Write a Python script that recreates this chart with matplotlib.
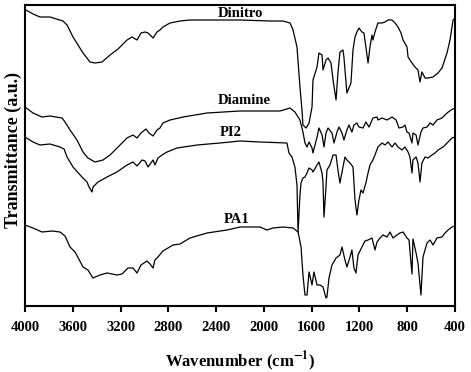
import numpy as np
import matplotlib
matplotlib.use('Agg')
import matplotlib.pyplot as plt

# FTIR spectra, wavenumber (cm-1) vs transmittance (a.u., stacked)
dinitro_wn = [4000, 3933, 3874, 3791, 3682, 3648, 3598, 3514, 3456, 3414, 3355, 3288, 3221, 3146,
              3104, 3062, 3029, 2995, 2970, 2928, 2895, 2870, 2845, 2786, 2702, 2619, 2200, 1949,
              1840, 1781, 1756, 1723, 1698, 1681, 1673, 1647, 1622, 1597, 1589, 1555, 1539, 1513,
              1505, 1480, 1463, 1438, 1421, 1396, 1380, 1363, 1338, 1330, 1305, 1288, 1271, 1254,
              1237, 1221, 1204, 1179, 1162, 1146, 1128, 1112, 1095, 1087, 1070, 1045, 1011, 986,
              961, 927, 902, 877, 852, 835, 802, 793, 760, 735, 710, 693, 677, 651, 626, 584, 542,
              509, 467, 442, 416, 400]
dinitro_t = [296.5, 292, 289, 289, 285, 281, 269, 253, 244, 243, 244, 251, 257, 266,
             269, 266, 273, 274, 273, 268, 274, 276, 279, 283, 285, 286, 286, 285,
             285, 283, 276, 259, 219, 196, 181, 178, 183, 199, 226, 239, 253, 251,
             236, 246, 248, 243, 226, 206, 233, 254, 256, 249, 213, 218, 223, 256,
             269, 274, 278, 274, 273, 259, 243, 259, 271, 266, 274, 283, 283, 284,
             286, 286, 283, 279, 273, 266, 259, 249, 243, 239, 236, 224, 234, 228, 228, 229, 233,
             238, 253, 266, 286, 288]

diamine_wn = [4000, 3933, 3858, 3791, 3690, 3665, 3623, 3565, 3514, 3473, 3414, 3347, 3288, 3221,
              3146, 3096, 3062, 3029, 2987, 2962, 2928, 2895, 2870, 2845, 2786, 2677, 2476, 2200,
              1865, 1781, 1740, 1698, 1673, 1656, 1639, 1622, 1597, 1589, 1555, 1539, 1513, 1497,
              1480, 1463, 1430, 1413, 1388, 1371, 1346, 1330, 1305, 1288, 1263, 1246, 1221, 1204,
              1170, 1146, 1120, 1087, 1053, 1045, 1011, 969, 927, 893, 869, 835, 819, 802, 785,
              760, 752, 726, 710, 685, 668, 634, 609, 584, 551, 509, 467, 433, 400]
diamine_t = [199, 193, 189, 190, 188, 184, 176, 166, 154, 148, 144, 146, 151, 159,
             168, 171, 168, 173, 177, 173, 170, 176, 178, 183, 186, 189, 193, 195,
             195, 198, 194, 186, 174, 163, 159, 164, 158, 153, 169, 178, 171, 159,
             173, 178, 173, 163, 174, 179, 173, 166, 176, 181, 174, 181, 183, 179,
             178, 184, 179, 188, 189, 186, 188, 186, 189, 186, 178, 179, 181, 174, 173,
             163, 173, 171, 161, 174, 178, 179, 183, 181, 186, 188, 193, 196, 198]

pi2_wn = [4000, 3933, 3874, 3791, 3707, 3673, 3648, 3598, 3523, 3481, 3464, 3439, 3431, 3389,
          3313, 3230, 3146, 3096, 3062, 3020, 2995, 2970, 2928, 2912, 2887, 2853, 2811, 2727,
          2560, 2367, 2200, 2033, 1807, 1790, 1765, 1740, 1723, 1714, 1698, 1689, 1673, 1656,
          1639, 1622, 1597, 1589, 1555, 1539, 1513, 1505, 1497, 1480, 1472, 1447, 1421, 1396,
          1380, 1363, 1338, 1321, 1305, 1279, 1254, 1237, 1221, 1204, 1187, 1170, 1146, 1128,
          1112, 1087, 1070, 1045, 1011, 986, 961, 927, 902, 877, 844, 819, 793, 777, 760, 752,
          726, 710, 693, 677, 651, 626, 593, 567, 542, 500, 458, 425, 400]
pi2_t = [169, 164, 161, 162, 159, 157, 149, 139, 129, 124, 119, 114, 119, 124,
         129, 134, 141, 144, 140, 146, 145, 139, 146, 141, 148, 151, 154, 158,
         161, 163, 165, 164, 163, 153, 149, 139, 121, 74, 111, 123, 128, 129,
         133, 138, 136, 134, 141, 144, 133, 123, 89, 119, 136, 141, 151, 151,
         136, 123, 139, 149, 146, 143, 139, 106, 91, 106, 116, 113, 123, 133,
         141, 146, 151, 159, 163, 161, 164, 159, 163, 159, 156, 159, 154, 149, 133, 146,
         149, 143, 124, 143, 149, 148, 151, 153, 156, 159, 164, 168, 169]

pa1_wn = [4000, 3933, 3858, 3774, 3707, 3665, 3623, 3581, 3514, 3473, 3431, 3372, 3313, 3230,
          3188, 3138, 3096, 3062, 3029, 2979, 2953, 2928, 2912, 2887, 2845, 2761, 2702, 2619,
          2476, 2309, 2200, 2033, 1974, 1924, 1840, 1756, 1714, 1689, 1673, 1656, 1639, 1622,
          1597, 1581, 1555, 1530, 1505, 1480, 1472, 1455, 1430, 1396, 1363, 1346, 1321, 1305,
          1279, 1263, 1246, 1229, 1212, 1179, 1154, 1128, 1095, 1070, 1053, 1028, 1003, 969,
          944, 919, 886, 860, 835, 802, 785, 760, 752, 726, 710, 685, 668, 634, 609, 584, 551,
          509, 484, 458, 425, 400]
pa1_t = [81, 78, 74, 75, 74, 70, 59, 54, 39, 36, 28, 31, 33, 31,
         32, 38, 38, 33, 41, 45, 42, 38, 46, 49, 55, 61, 62, 68,
         73, 76, 79, 79, 76, 78, 79, 78, 74, 59, 31, 11, 11, 34,
         21, 34, 21, 21, 19, 8, 9, 28, 41, 48, 51, 59, 46, 39,
         49, 56, 38, 33, 51, 59, 65, 66, 68, 56, 64, 68, 71, 69,
         74, 68, 71, 73, 74, 68, 66, 32, 67, 53, 43, 11, 49, 63, 66, 61, 68,
         69, 73, 76, 79, 80]

plt.rcParams['font.family'] = 'Liberation Serif'
plt.rcParams['font.weight'] = 'bold'
plt.rcParams['mathtext.fontset'] = 'stix'

fig = plt.figure(figsize=(4.71, 3.72), dpi=100)
ax = fig.add_axes([25 / 471, 1 - 306 / 372, 430 / 471, 301 / 372])

for wn, t in [(dinitro_wn, dinitro_t), (diamine_wn, diamine_t), (pi2_wn, pi2_t), (pa1_wn, pa1_t)]:
    ax.plot(wn, t, color='black', linewidth=0.9)

# curve names
ax.text(2200, 293, 'Dinitro', ha='center', va='center', fontsize=10.5, fontweight='bold')
ax.text(2167, 206, 'Diamine', ha='center', va='center', fontsize=10.5, fontweight='bold')
ax.text(2275, 173.5, 'PI2', ha='center', va='center', fontsize=10.5, fontweight='bold')
ax.text(2225, 86.5, 'PA1', ha='center', va='center', fontsize=10.5, fontweight='bold')

ax.set_xlim(4000, 400)
ax.set_ylim(0, 301)
ax.set_xticks(np.arange(4000, 399, -400))
ax.set_yticks([])
ax.tick_params(axis='x', direction='out', length=4, width=1.5, pad=7, labelsize=10.5)
for s in ax.spines.values():
    s.set_linewidth(1.5)

ax.set_xlabel(r'Wavenumber (cm$^{\mathbf{-1}}$)', fontsize=12, fontweight='bold', labelpad=11)
ax.set_ylabel('Transmittance (a.u.)', fontsize=13, fontweight='bold')
ax.yaxis.set_label_coords(-0.008, 0.518)

fig.savefig('out.png', dpi=100)
